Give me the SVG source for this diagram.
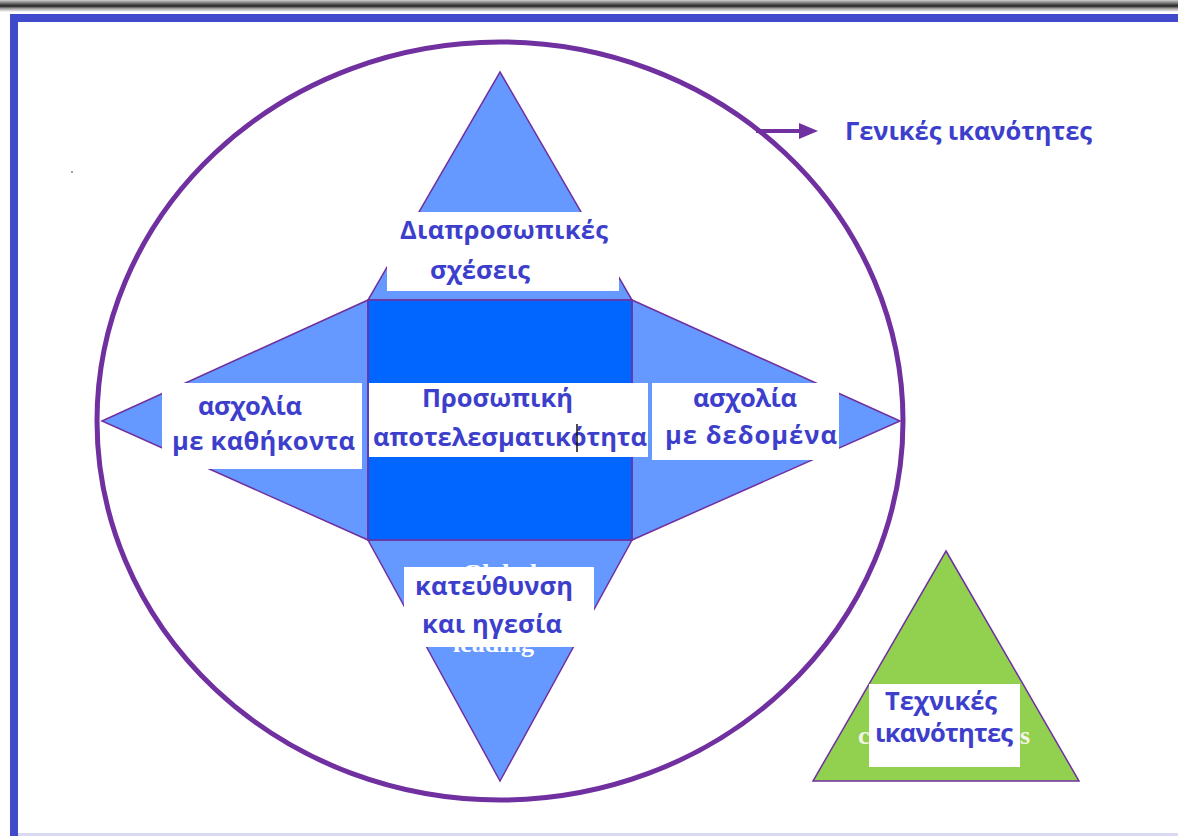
<svg xmlns="http://www.w3.org/2000/svg" width="1178" height="836" viewBox="0 0 1178 836">
<defs>
<linearGradient id="topShade" x1="0" y1="0" x2="0" y2="1">
<stop offset="0" stop-color="#cfcfcf"/>
<stop offset="0.35" stop-color="#555"/>
<stop offset="0.5" stop-color="#222"/>
<stop offset="0.7" stop-color="#999"/>
<stop offset="1" stop-color="#fff"/>
</linearGradient>
</defs>
<style>
.tri{fill:#6699FF;stroke:#7030A0;stroke-width:1.5}
.sq{fill:#0066FF;stroke:#7030A0;stroke-width:1.5}
.box{fill:#FFFFFF}
.lbl{font-family:"Open Sans","DejaVu Sans",sans-serif;font-weight:700;font-size:25.5px;fill:#3D3FCC}
.ghost{font-family:"Liberation Serif",serif;font-weight:700;font-size:26px;fill:#FFFFFF}
</style>
<rect x="0" y="0" width="1178" height="836" fill="#FFFFFF"/>
<rect x="0" y="0" width="1178" height="12" fill="url(#topShade)"/>
<g id="frame">
<rect x="10" y="14" width="1168" height="8" fill="#4149CC"/>
<rect x="10" y="14" width="8" height="822" fill="#4149CC"/>
<rect x="18" y="833" width="1160" height="3" fill="#D9D9F2"/>
</g>
<circle cx="72" cy="172" r="0.8" fill="#333"/>
<g id="general-ellipse">
<ellipse cx="500" cy="421" rx="403" ry="379" fill="none" stroke="#7030A0" stroke-width="5"/>
</g>
<g id="connectors">
<line x1="756" y1="131" x2="803" y2="131" stroke="#7030A0" stroke-width="4"/>
<polygon points="799,123 818,131 799,139" fill="#7030A0"/>
</g>
<g id="label-general">
<text x="845" y="140" class="lbl" textLength="247">Γενικές ικανότητες</text>
</g>
<g id="node-top">
<polygon class="tri" points="500,72 632,300 368,300"/>
</g>
<g id="node-left">
<polygon class="tri" points="102,421 368,300 368,540"/>
</g>
<g id="node-right">
<polygon class="tri" points="900,421 632,300 632,540"/>
</g>
<g id="node-bottom">
<polygon class="tri" points="368,540 632,540 500,781"/>
<text x="462" y="582" class="ghost">Global</text>
<text x="453" y="652" class="ghost">leading</text>
</g>
<g id="node-center">
<rect class="sq" x="368" y="300" width="264" height="240"/>
</g>
<g id="node-top-label">
<rect class="box" x="387" y="212" width="232" height="79"/>
<text x="400" y="239" class="lbl" textLength="208">Διαπροσωπικές</text>
<text x="430" y="279" class="lbl" textLength="100">σχέσεις</text>
</g>
<g id="node-center-label">
<rect class="box" x="369" y="383" width="279" height="74"/>
<text x="422" y="407" class="lbl" textLength="151">Προσωπική</text>
<text x="373" y="446" class="lbl" textLength="274">αποτελεσματικότητα</text>
<line x1="577" y1="424" x2="577" y2="452" stroke="#111" stroke-width="1.5"/>
</g>
<g id="node-left-label">
<rect class="box" x="162" y="383" width="200" height="86"/>
<text x="198" y="415" class="lbl" textLength="104">ασχολία</text>
<text x="172" y="450" class="lbl" textLength="183">με καθήκοντα</text>
</g>
<g id="node-right-label">
<rect class="box" x="652" y="383" width="187" height="77"/>
<text x="693" y="407" class="lbl" textLength="104">ασχολία</text>
<text x="665" y="444" class="lbl" textLength="172">με δεδομένα</text>
</g>
<g id="node-bottom-label">
<rect class="box" x="404" y="567" width="190" height="80"/>
<text x="415" y="595" class="lbl" textLength="158">κατεύθυνση</text>
<text x="422" y="633" class="lbl" textLength="140">και ηγεσία</text>
</g>
<g id="node-technical">
<polygon points="946,551 1079,781 813,781" fill="#92D050" stroke="#7030A0" stroke-width="1.5"/>
<text x="858" y="744" class="ghost" style="fill:#F4F4E8">c</text>
<text x="1020" y="744" class="ghost" style="fill:#F4F4E8">s</text>
<rect class="box" x="869" y="684" width="151" height="83"/>
<text x="885" y="710" class="lbl" textLength="112">Τεχνικές</text>
<text x="875" y="742" class="lbl" textLength="138">ικανότητες</text>
</g>
</svg>
